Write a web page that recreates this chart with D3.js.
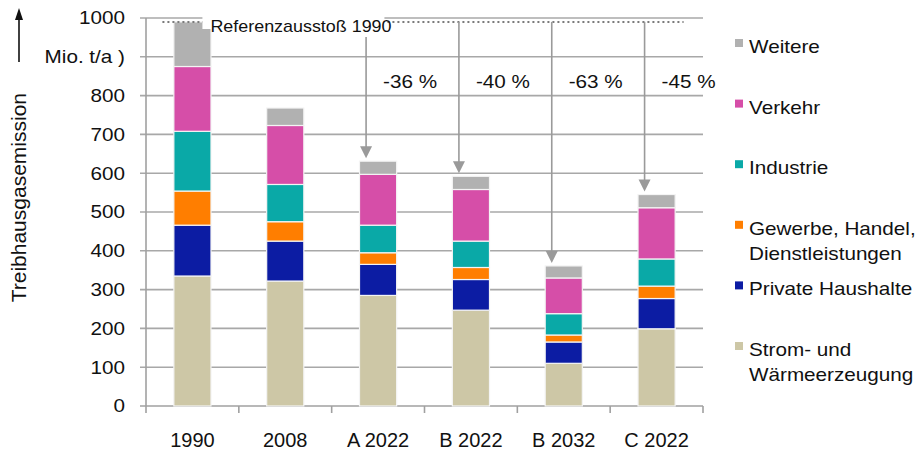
<!DOCTYPE html>
<html>
<head>
<meta charset="utf-8">
<script src="https://cdn.jsdelivr.net/npm/d3@7"></script>
<style>
  body { margin: 0; background: #fff; }
  svg { font-family: "Liberation Sans", Arial, sans-serif; display: block; }
</style>
</head>
<body>
<script>
const width = 921, height = 452;

// data (Mio. t/a)
const categories = ["1990", "2008", "A 2022", "B 2022", "B 2032", "C 2022"];
const strom     = [335, 322, 285, 247, 110, 199];
const haushalte = [131, 103,  80,  79,  55,  78];
const gewerbe   = [ 88,  50,  30,  31,  18,  32];
const industrie = [154,  96,  71,  68,  55,  70];
const verkehr   = [167, 152, 131, 133,  92, 132];
const weitere   = [115,  45,  34,  34,  31,  34];

const seriesKeys = ["strom", "haushalte", "gewerbe", "industrie", "verkehr", "weitere"];
const seriesLabels = [
  ["Strom- und", "Wärmeerzeugung"],
  ["Private Haushalte"],
  ["Gewerbe, Handel,", "Dienstleistungen"],
  ["Industrie"],
  ["Verkehr"],
  ["Weitere"]
];
const seriesColors = ["#cdc7a6", "#0c1ca3", "#ff7e00", "#0aa9a7", "#d64ea8", "#b1b1b1"];

const yTicks = [0, 100, 200, 300, 400, 500, 600, 700, 800, 900, 1000];
const yTickLabels = ["0", "100", "200", "300", "400", "500", "600", "700", "800", "Mio. t/a )", "1000"];

const reference = 990;
const referenceLabel = "Referenzausstoß 1990";
const targets = ["A 2022", "B 2022", "B 2032", "C 2022"];
const reductions = ["-36 %", "-40 %", "-63 %", "-45 %"];

const yTitle = "Treibhausgasemission";

// build table for the stack
const rows = categories.map((c, i) => ({
  cat: c, strom: strom[i], haushalte: haushalte[i], gewerbe: gewerbe[i],
  industrie: industrie[i], verkehr: verkehr[i], weitere: weitere[i]
}));
const stacked = d3.stack().keys(seriesKeys)(rows);
const totals = rows.map(r => d3.sum(seriesKeys, k => r[k]));

const x = d3.scaleBand().domain(categories).range([146, 703]).padding(0);
const y = d3.scaleLinear().domain([0, 1000]).range([406, 18]);
const barW = x.bandwidth() * 0.4;
const xc = c => x(c) + x.bandwidth() / 2;
const sx = 1.15; // text in the picture is a bit wider than tall

const svg = d3.select("body").append("svg")
    .attr("width", width)
    .attr("height", height);

// grid
svg.append("g")
    .attr("stroke", "#a8a8a8")
    .attr("stroke-width", 1.6)
  .selectAll("line")
  .data(yTicks.filter(d => d > 0))
  .join("line")
    .attr("x1", 140)
    .attr("x2", 703)
    .attr("y1", d => y(d))
    .attr("y2", d => y(d));

// axes
svg.append("line")
    .attr("x1", 146).attr("x2", 146)
    .attr("y1", y(1000)).attr("y2", y(0))
    .attr("stroke", "#a0a0a0").attr("stroke-width", 1.6);
svg.append("line")
    .attr("x1", 140).attr("x2", 703)
    .attr("y1", y(0)).attr("y2", y(0))
    .attr("stroke", "#a0a0a0").attr("stroke-width", 1.6);
svg.append("g")
    .attr("stroke", "#a0a0a0")
    .attr("stroke-width", 1.6)
  .selectAll("line")
  .data(categories.concat([null]))
  .join("line")
    .attr("x1", d => d ? x(d) : x.range()[1])
    .attr("x2", d => d ? x(d) : x.range()[1])
    .attr("y1", y(0))
    .attr("y2", y(0) + 7);

// y tick labels
svg.append("g")
  .selectAll("text")
  .data(yTicks)
  .join("text")
    .attr("transform", d => `translate(125,${y(d)}) scale(${sx},1)`)
    .attr("dy", "0.36em")
    .attr("text-anchor", "end")
    .attr("font-size", 18)
    .attr("fill", "#111")
    .text((d, i) => yTickLabels[i]);

// x labels
svg.append("g")
  .selectAll("text")
  .data(categories)
  .join("text")
    .attr("x", d => xc(d))
    .attr("y", 447)
    .attr("text-anchor", "middle")
    .attr("font-size", 20)
    .attr("fill", "#111")
    .text(d => d);

// bars
svg.append("g")
  .selectAll("g")
  .data(stacked)
  .join("g")
    .attr("fill", (d, i) => seriesColors[i])
  .selectAll("rect")
  .data(d => d)
  .join("rect")
    .attr("x", d => xc(d.data.cat) - barW / 2)
    .attr("y", d => y(d[1]))
    .attr("width", barW)
    .attr("height", d => y(d[0]) - y(d[1]))
    .attr("stroke", "#f4f4f4")
    .attr("stroke-width", 1.2);

// reference line + label
const refY = y(reference);
const labelX0 = xc("1990") + 18, labelX1 = labelX0 + 182;
svg.append("line")
    .attr("x1", xc("1990") - 30)
    .attr("x2", xc("C 2022") + 27)
    .attr("y1", refY).attr("y2", refY)
    .attr("stroke", "#7a7a7a")
    .attr("stroke-width", 2)
    .attr("stroke-dasharray", "2,3");
svg.append("rect")
    .attr("x", labelX0 - 8)
    .attr("y", 10)
    .attr("width", 182)
    .attr("height", 19)
    .attr("fill", "#fff");
svg.append("text")
    .attr("transform", `translate(${labelX0},32) scale(1.12,1)`)
    .attr("font-size", 16)
    .attr("fill", "#111")
    .text(referenceLabel);

// arrows to the scenario bars
const arrowColor = "#9a9a9a";
targets.forEach((t, i) => {
  const ax = xc(t) - 12;
  const tip = y(totals[categories.indexOf(t)]) - 3;
  const start = ax < labelX1 ? 37 : refY;
  svg.append("line")
      .attr("x1", ax).attr("x2", ax)
      .attr("y1", start).attr("y2", tip - 10)
      .attr("stroke", arrowColor)
      .attr("stroke-width", 1.6);
  svg.append("path")
      .attr("d", `M${ax - 6},${tip - 12}L${ax + 6},${tip - 12}L${ax},${tip}Z`)
      .attr("fill", arrowColor);
  svg.append("text")
      .attr("transform", `translate(${xc(t) + 32},88) scale(${sx},1)`)
      .attr("text-anchor", "middle")
      .attr("font-size", 18)
      .attr("fill", "#111")
      .text(reductions[i]);
});

// y title with arrow
svg.append("text")
    .attr("transform", "translate(26,93) rotate(-90)")
    .attr("text-anchor", "end")
    .attr("font-size", 21)
    .attr("fill", "#111")
    .text(yTitle);
svg.append("line")
    .attr("x1", 19).attr("x2", 19)
    .attr("y1", 62).attr("y2", 18)
    .attr("stroke", "#111").attr("stroke-width", 1.6);
svg.append("path")
    .attr("d", "M15,20L23,20L19,8Z")
    .attr("fill", "#111");

// legend, top entry is the last series
const legend = svg.append("g")
  .selectAll("g")
  .data(seriesKeys.map((k, i) => i).reverse())
  .join("g")
    .attr("transform", (d, j) => `translate(735,${47 + j * 60.6})`);
legend.append("rect")
    .attr("x", 0).attr("y", -8)
    .attr("width", 8).attr("height", 8)
    .attr("fill", d => seriesColors[d]);
legend.each(function(d) {
  d3.select(this).selectAll("text")
    .data(seriesLabels[d])
    .join("text")
      .attr("transform", (s, k) => `translate(14,${6 + k * 25}) scale(${sx},1)`)
      .attr("font-size", 18)
      .attr("fill", "#111")
      .text(s => s);
});
</script>
</body>
</html>
